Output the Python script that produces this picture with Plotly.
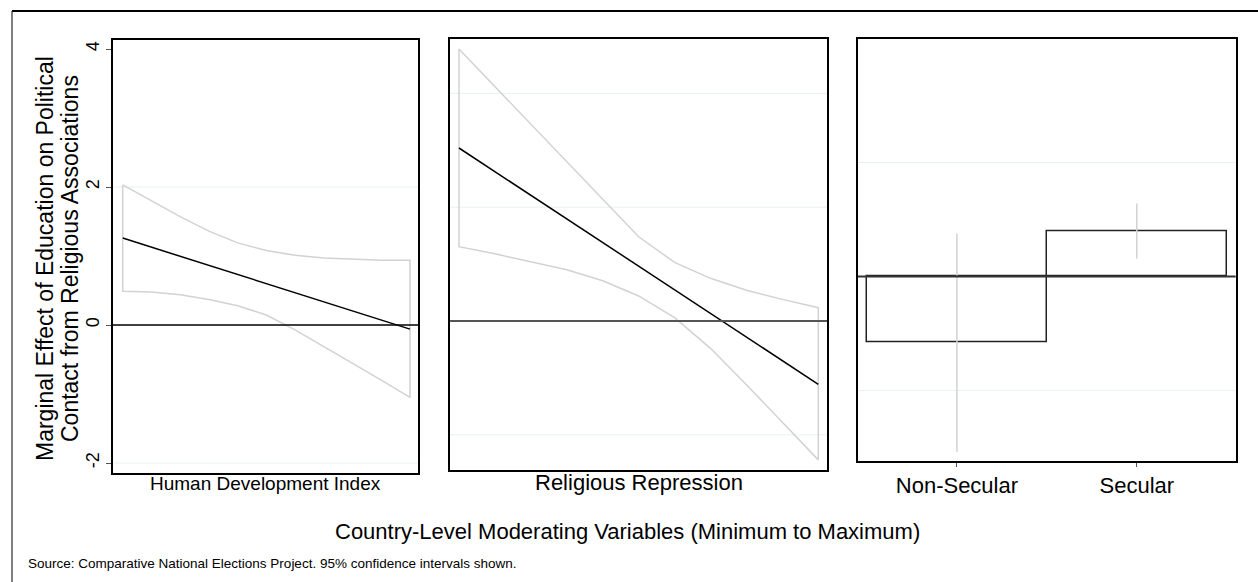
import plotly.graph_objects as go

# ---------------- data ----------------
# Panel 1: Human Development Index (min to max, scaled 0..1)
hdi_x = [0.0, 0.1, 0.2, 0.3, 0.4, 0.5, 0.6, 0.7, 0.8, 0.9, 1.0]
hdi_upper = [2.03, 1.80, 1.57, 1.36, 1.19, 1.08, 1.01, 0.97, 0.95, 0.94, 0.94]
hdi_lower = [0.49, 0.48, 0.44, 0.37, 0.28, 0.145, -0.07, -0.31, -0.56, -0.80, -1.05]
hdi_effect = [1.26, 1.128, 0.996, 0.864, 0.732, 0.60, 0.468, 0.336, 0.204, 0.072, -0.06]

# Panel 2: Religious Repression (min to max, scaled 0..1)
rep_x = [0.0, 0.1, 0.2, 0.3, 0.4, 0.5, 0.6, 0.7, 0.8, 0.9, 1.0]
rep_upper = [2.39, 2.06, 1.73, 1.40, 1.07, 0.74, 0.515, 0.375, 0.27, 0.19, 0.117]
rep_lower = [0.653, 0.59, 0.52, 0.45, 0.354, 0.22, 0.03, -0.24, -0.56, -0.89, -1.22]
rep_effect = [1.52, 1.312, 1.104, 0.896, 0.688, 0.48, 0.272, 0.064, -0.144, -0.352, -0.556]

# Panel 3: Secularism
sec_categories = ["Non-Secular", "Secular"]
sec_effect = [-0.576, 0.40]
sec_lower = [-1.535, 0.158]
sec_upper = [0.377, 0.64]

# axis labels
p1_ticks = [-2, 0, 2, 4]
p1_grid = [-2, 2]
p2_grid = [-1, 1, 2]
p3_grid = [-1, 1]

FONT = "Liberation Sans, Arial, sans-serif"
CI_COLOR = "#d2d2d2"
GRID_COLOR = "#e8f0f1"

W, H = 1258, 582


def px_x(v):
    return v / W


def px_y(v):
    return 1 - v / H


fig = go.Figure()

# ---- Panel 1 ----
fig.add_trace(go.Scatter(
    x=hdi_x + hdi_x[::-1] + [hdi_x[0]],
    y=hdi_upper + hdi_lower[::-1] + [hdi_upper[0]],
    mode="lines", line=dict(color=CI_COLOR, width=1.5),
    xaxis="x", yaxis="y", showlegend=False, hoverinfo="skip"))
fig.add_trace(go.Scatter(
    x=hdi_x, y=hdi_effect, mode="lines", line=dict(color="black", width=1.5),
    xaxis="x", yaxis="y", showlegend=False))

# ---- Panel 2 ----
fig.add_trace(go.Scatter(
    x=rep_x + rep_x[::-1] + [rep_x[0]],
    y=rep_upper + rep_lower[::-1] + [rep_upper[0]],
    mode="lines", line=dict(color=CI_COLOR, width=1.5),
    xaxis="x2", yaxis="y2", showlegend=False, hoverinfo="skip"))
fig.add_trace(go.Scatter(
    x=rep_x, y=rep_effect, mode="lines", line=dict(color="black", width=1.5),
    xaxis="x2", yaxis="y2", showlegend=False))

# ---- Panel 3 ----
sec_pos = list(range(len(sec_categories)))
fig.add_trace(go.Bar(
    x=sec_pos, y=sec_effect, width=1,
    marker=dict(color="rgba(0,0,0,0)", line=dict(color="#222222", width=1.5)),
    xaxis="x3", yaxis="y3", showlegend=False))
for i, pos in enumerate(sec_pos):
    fig.add_trace(go.Scatter(
        x=[pos, pos], y=[sec_lower[i], sec_upper[i]], mode="lines",
        line=dict(color=CI_COLOR, width=1.5),
        xaxis="x3", yaxis="y3", showlegend=False, hoverinfo="skip"))

shapes = []
# gridlines
for g in p1_grid:
    shapes.append(dict(type="line", xref="x domain", yref="y", x0=0, x1=1, y0=g, y1=g,
                       line=dict(color=GRID_COLOR, width=1), layer="below"))
for g in p2_grid:
    shapes.append(dict(type="line", xref="x2 domain", yref="y2", x0=0, x1=1, y0=g, y1=g,
                       line=dict(color=GRID_COLOR, width=1), layer="below"))
for g in p3_grid:
    shapes.append(dict(type="line", xref="x3 domain", yref="y3", x0=0, x1=1, y0=g, y1=g,
                       line=dict(color=GRID_COLOR, width=1), layer="below"))
# zero reference lines
shapes.append(dict(type="line", xref="x domain", yref="y", x0=0, x1=1, y0=0, y1=0,
                   line=dict(color="black", width=1.5), layer="above"))
shapes.append(dict(type="line", xref="x2 domain", yref="y2", x0=0, x1=1, y0=0, y1=0,
                   line=dict(color="#555555", width=2), layer="above"))
shapes.append(dict(type="line", xref="x3 domain", yref="y3", x0=0, x1=1, y0=0, y1=0,
                   line=dict(color="#333333", width=2), layer="above"))
# outer frame (top and left)
shapes.append(dict(type="line", xref="paper", yref="paper", x0=px_x(12), x1=1.0,
                   y0=px_y(11), y1=px_y(11), line=dict(color="black", width=2)))
shapes.append(dict(type="line", xref="paper", yref="paper", x0=px_x(12), x1=px_x(12),
                   y0=px_y(11), y1=0, line=dict(color="black", width=1)))

frame_axis = dict(showline=True, mirror=True, linecolor="black", linewidth=1.5,
                  showgrid=False, zeroline=False)

annotations = [
    dict(text="Marginal Effect of Education on Political", x=px_x(45), y=px_y(259),
         xref="paper", yref="paper", showarrow=False, textangle=-90,
         font=dict(size=23, color="black", family=FONT), xanchor="center", yanchor="middle"),
    dict(text="Contact from Religious Associations", x=px_x(70), y=px_y(259),
         xref="paper", yref="paper", showarrow=False, textangle=-90,
         font=dict(size=23, color="black", family=FONT), xanchor="center", yanchor="middle"),
    dict(text="Human Development Index", x=px_x(265.5), y=px_y(483.5),
         xref="paper", yref="paper", showarrow=False,
         font=dict(size=19, color="black", family=FONT), xanchor="center", yanchor="middle"),
    dict(text="Religious Repression", x=px_x(638.5), y=px_y(482),
         xref="paper", yref="paper", showarrow=False,
         font=dict(size=22, color="black", family=FONT), xanchor="center", yanchor="middle"),
    dict(text="Country-Level Moderating Variables (Minimum to Maximum)", x=px_x(627), y=px_y(531),
         xref="paper", yref="paper", showarrow=False,
         font=dict(size=22, color="black", family=FONT), xanchor="center", yanchor="middle"),
    dict(text="Source: Comparative National Elections Project. 95% confidence intervals shown.",
         x=px_x(26), y=px_y(563), xref="paper", yref="paper", showarrow=False,
         font=dict(size=13.5, color="black", family=FONT), xanchor="left", yanchor="middle"),
]

fig.update_layout(
    width=W, height=H,
    margin=dict(l=0, r=0, t=0, b=0),
    paper_bgcolor="white", plot_bgcolor="white",
    font=dict(family=FONT, color="black"),
    showlegend=False,
    bargap=0,
    xaxis=dict(domain=[px_x(113), px_x(418.3)], range=[-0.0338, 1.0289],
               showticklabels=False, ticks="", anchor="y", **frame_axis),
    yaxis=dict(domain=[px_y(473), px_y(39.7)], range=[-2.145, 4.135],
               tickvals=p1_ticks, ticktext=[str(t) for t in p1_ticks],
               ticks="outside", ticklen=5, tickcolor="#555555", tickangle=-90,
               tickfont=dict(size=18, color="black", family=FONT), anchor="x", **frame_axis),
    xaxis2=dict(domain=[px_x(450), px_x(827)], range=[-0.025, 1.0242],
                showticklabels=False, ticks="", anchor="y2", **frame_axis),
    yaxis2=dict(domain=[px_y(470), px_y(39.3)], range=[-1.309, 2.475],
                showticklabels=False, ticks="", anchor="x2", **frame_axis),
    xaxis3=dict(domain=[px_x(858), px_x(1235.7)], range=[-0.55, 1.55],
                tickvals=sec_pos, ticktext=sec_categories, ticks="outside", ticklen=4,
                tickcolor="#555555", tickfont=dict(size=22, color="black", family=FONT),
                anchor="y3", **frame_axis),
    yaxis3=dict(domain=[px_y(461), px_y(39.3)], range=[-1.617, 2.08],
                showticklabels=False, ticks="", anchor="x3", **frame_axis),
    shapes=shapes,
    annotations=annotations,
)

fig.write_html("out.html")
